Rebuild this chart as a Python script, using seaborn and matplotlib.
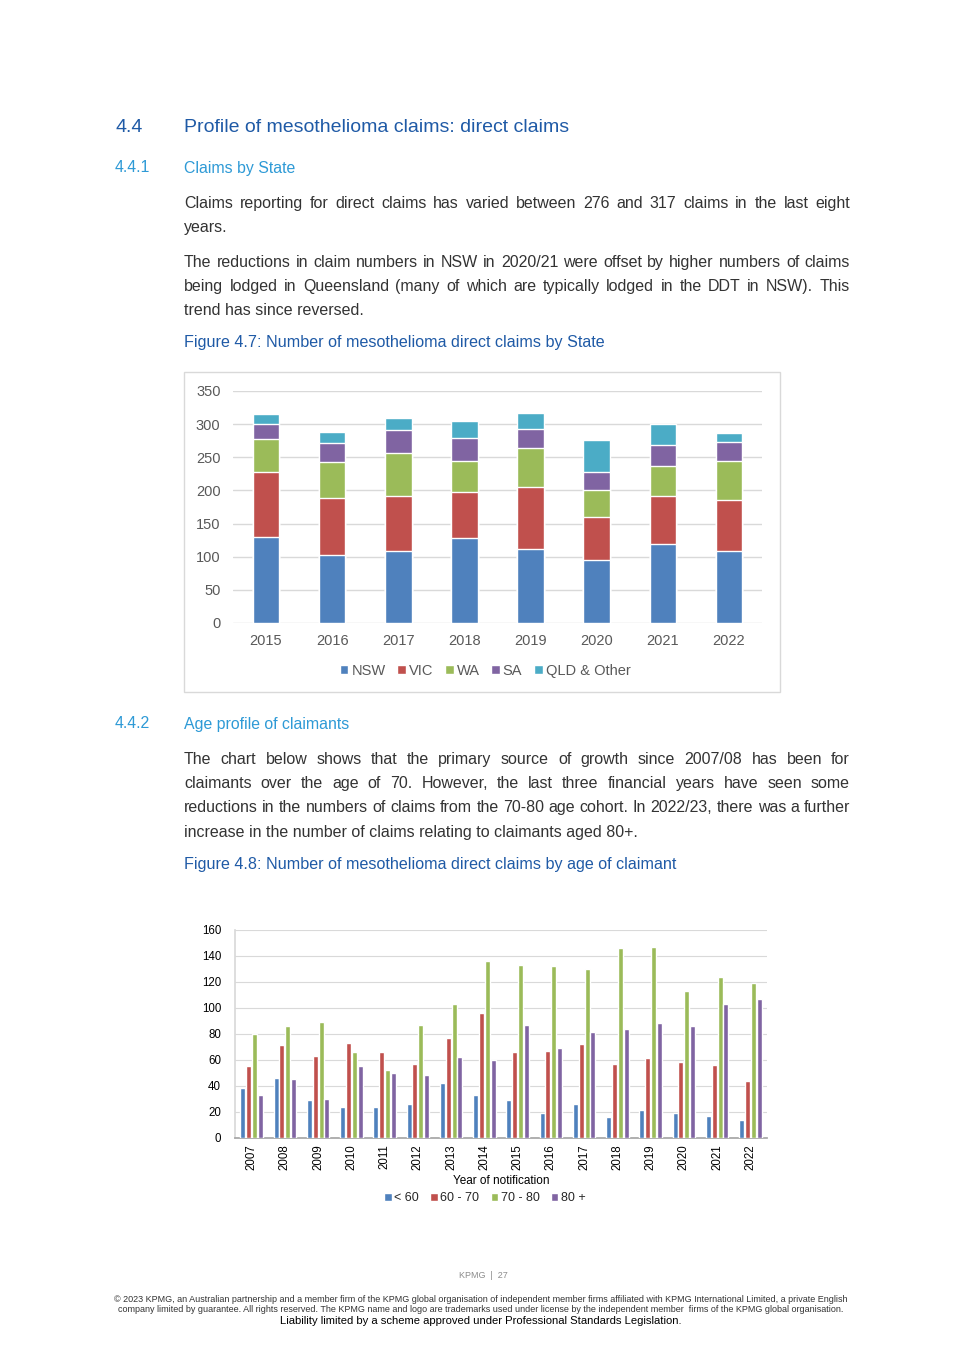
import pandas as pd
import seaborn as sns
import matplotlib.pyplot as plt
from matplotlib.patches import Patch, Rectangle
from matplotlib.font_manager import FontProperties

# Figure 4.7 - direct claims by State
state_years = ["2015", "2016", "2017", "2018", "2019", "2020", "2021", "2022"]
states = ["NSW", "VIC", "WA", "SA", "QLD & Other"]
nsw = [129, 102, 109, 128, 112, 95, 119, 109]
vic = [99, 87, 83, 69, 93, 65, 72, 77]
wa = [49, 54, 64, 47, 59, 41, 46, 58]
sa = [23, 28, 35, 35, 29, 27, 31, 29]
qld = [15, 17, 18, 25, 24, 48, 32, 14]
state_colors = ["#4F81BD", "#C0504D", "#9BBB59", "#8064A2", "#4BACC6"]

# Figure 4.8 - direct claims by age of claimant
age_years = ["2007", "2008", "2009", "2010", "2011", "2012", "2013", "2014",
             "2015", "2016", "2017", "2018", "2019", "2020", "2021", "2022"]
age_groups = ["< 60", "60 - 70", "70 - 80", "80 +"]
under_60 = [38, 46, 29, 24, 24, 26, 42, 33, 29, 19, 26, 16, 21, 19, 17, 14]
age_60_70 = [55, 71, 63, 73, 66, 57, 77, 96, 66, 67, 72, 57, 61, 58, 56, 44]
age_70_80 = [80, 86, 89, 66, 52, 87, 103, 136, 133, 132, 130, 146, 147, 113, 124, 119]
over_80 = [33, 45, 30, 55, 50, 48, 62, 60, 87, 69, 81, 84, 88, 86, 103, 107]
age_colors = ["#4F81BD", "#C0504D", "#9BBB59", "#8064A2"]

sns.set_theme(style="white")
plt.rcParams["font.family"] = ["Liberation Sans", "DejaVu Sans"]
BODY = ["Liberation Sans", "DejaVu Sans"]

W, H = 965, 1365
fig = plt.figure(figsize=(W / 100, H / 100), dpi=100)

dark_blue = "#1F5AA6"
light_blue = "#2E9AD6"
text_col = "#333333"
BS = 11.5  # body text size


def fx(px):
    return px / W


def fy(py):
    return 1 - py / H


def put(x, y, s, **kw):
    return fig.text(fx(x), fy(y), s, va="center", **kw)


renderer = fig.canvas.get_renderer()
body_prop = FontProperties(family=BODY, size=BS)


def baseline_error(s):
    # Agg snaps each text bitmap to whole pixels; words with and without
    # descenders end up a pixel or two apart, so work out the offset here
    try:
        from matplotlib.backends.backend_agg import get_hinting_flag
        font = renderer._prepare_font(body_prop)
        font.set_text(s, 0, flags=get_hinting_flag())
        _, h = font.get_width_height()
        d = font.get_descent()
        return round(d / 64) - h // 64 + (h - d) // 64
    except Exception:
        return 0


def body(x, y, s):
    row = round(y + 6) - baseline_error(s)
    return fig.text(fx(x), fy(row), s, va="baseline", fontsize=BS, color=text_col, family=BODY)


def justify(y, line, x0=184, x1=850):
    words = line.split()
    objs = [body(x0, y, w) for w in words]
    widths = [t.get_window_extent(renderer).width for t in objs]
    gap = (x1 - x0 - sum(widths)) / (len(words) - 1)
    x = x0
    for t, w in zip(objs, widths):
        t.set_x(fx(x))
        x += w + gap


# headings and body text
put(115, 127, "4.4", fontsize=14, color=dark_blue, family=BODY)
put(184, 127, "Profile of mesothelioma claims: direct claims", fontsize=14, color=dark_blue, family=BODY)
put(115, 168, "4.4.1", fontsize=11.4, color=light_blue, family=BODY)
put(184, 168, "Claims by State", fontsize=11.4, color=light_blue, family=BODY)

justify(202, "Claims reporting for direct claims has varied between 276 and 317 claims in the last eight")
body(184, 226, "years.")
justify(261, "The reductions in claim numbers in NSW in 2020/21 were offset by higher numbers of claims")
justify(285, "being lodged in Queensland (many of which are typically lodged in the DDT in NSW). This")
body(184, 309, "trend has since reversed.")
put(184, 343, "Figure 4.7: Number of mesothelioma direct claims by State", fontsize=11.6, color=dark_blue, family=BODY)

put(115, 724, "4.4.2", fontsize=11.4, color=light_blue, family=BODY)
put(184, 724, "Age profile of claimants", fontsize=11.4, color=light_blue, family=BODY)
justify(758, "The chart below shows that the primary source of growth since 2007/08 has been for")
justify(782, "claimants over the age of 70. However, the last three financial years have seen some")
justify(806, "reductions in the numbers of claims from the 70-80 age cohort. In 2022/23, there was a further")
body(184, 831, "increase in the number of claims relating to claimants aged 80+.")
put(184, 865, "Figure 4.8: Number of mesothelioma direct claims by age of claimant", fontsize=11.6, color=dark_blue, family=BODY)

# chart 1 frame
fig.patches.append(Rectangle((fx(184), fy(692)), fx(596), 320 / H, transform=fig.transFigure,
                             fill=False, edgecolor="#D9D9D9", linewidth=1))

ax1 = fig.add_axes([fx(233), fy(623), fx(762 - 233), (623 - 391) / H])
df1 = pd.DataFrame({"Year": state_years, "NSW": nsw, "VIC": vic, "WA": wa, "SA": sa, "QLD & Other": qld})
cum = df1[states].cumsum(axis=1)
for st, col in reversed(list(zip(states, state_colors))):
    sns.barplot(x=df1["Year"], y=cum[st], color=col, width=0.4, saturation=1, ax=ax1, zorder=3)
ax1.set_ylim(0, 350)
ax1.set_yticks(range(0, 351, 50))
ax1.set_xlim(-0.5, 7.5)
ax1.yaxis.grid(True, color="#D9D9D9", linewidth=1, zorder=0)
ax1.set_axisbelow(True)
for s in ax1.spines.values():
    s.set_visible(False)
ax1.set_xlabel("")
ax1.set_ylabel("")
ax1.tick_params(axis="both", length=0, labelsize=10.5, colors="#595959")
ax1.tick_params(axis="x", pad=8)
ax1.tick_params(axis="y", pad=9)
h1 = [Patch(facecolor=c, label=s) for s, c in zip(states, state_colors)]
fig.legend(handles=h1, loc="center", bbox_to_anchor=(fx(485), fy(671)), ncol=5, frameon=False,
           fontsize=10.5, handlelength=0.6, handleheight=0.6, handletextpad=0.2, columnspacing=0.8,
           labelcolor="#595959")

# chart 2
ax2 = fig.add_axes([fx(235), fy(1137.7), fx(767 - 235), (1137.7 - 929.7) / H])
df2 = pd.DataFrame({"Year": age_years, "< 60": under_60, "60 - 70": age_60_70,
                    "70 - 80": age_70_80, "80 +": over_80})
long2 = df2.melt(id_vars="Year", var_name="Age", value_name="Claims")
sns.barplot(data=long2, x="Year", y="Claims", hue="Age", hue_order=age_groups, palette=age_colors,
            width=0.7, gap=0.15, saturation=1, ax=ax2, legend=False, zorder=3)
ax2.set_ylim(0, 160)
ax2.set_yticks(range(0, 161, 20))
ax2.set_xlim(-0.5, 15.5)
ax2.yaxis.grid(True, color="#D9D9D9", linewidth=0.8, zorder=0)
ax2.set_axisbelow(True)
for s in ["top", "right"]:
    ax2.spines[s].set_visible(False)
ax2.spines["left"].set_color("#D9D9D9")
ax2.spines["bottom"].set_color("#A6A6A6")
ax2.set_ylabel("")
ax2.set_xlabel("Year of notification", fontsize=8.5, color="black", labelpad=3)
ax2.tick_params(axis="both", length=0, labelsize=8.3, colors="black")
ax2.tick_params(axis="x", rotation=90, pad=5)
ax2.tick_params(axis="y", pad=10)
h2 = [Patch(facecolor=c, label=s) for s, c in zip(age_groups, age_colors)]
fig.legend(handles=h2, loc="center", bbox_to_anchor=(fx(485), fy(1198)), ncol=4, frameon=False,
           fontsize=9, handlelength=0.6, handleheight=0.6, handletextpad=0.2, columnspacing=0.9)

# footer
put(483, 1276, "KPMG  |  27", fontsize=6.5, color="#8C8C8C", ha="center", family=BODY)
put(481, 1299, "\u00a9 2023 KPMG, an Australian partnership and a member firm of the KPMG global organisation of "
    "independent member firms affiliated with KPMG International Limited, a private English",
    fontsize=6.5, color=text_col, ha="center", family=BODY)
put(481, 1309, "company limited by guarantee. All rights reserved. The KPMG name and logo are trademarks used "
    "under license by the independent member  firms of the KPMG global organisation.",
    fontsize=6.5, color=text_col, ha="center", family=BODY)
put(481, 1321, "Liability limited by a scheme approved under Professional Standards Legislation.",
    fontsize=8.1, color="black", ha="center", family=BODY)

fig.savefig("out.png", dpi=100)
